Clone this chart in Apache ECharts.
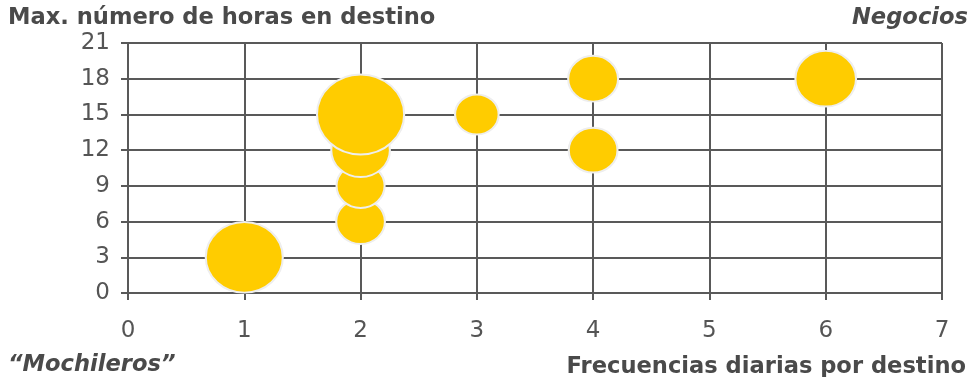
<!DOCTYPE html>
<html><head><meta charset="utf-8">
<script src="https://cdn.jsdelivr.net/npm/echarts@6/dist/echarts.min.js"></script>
<style>html,body{margin:0;padding:0;background:#fff}#c{width:973px;height:377px}</style>
</head><body><div id="c"></div>
<script>
const freq = [1, 2, 2, 2, 2, 3, 4, 4, 6];
const hours = [3, 6, 9, 12, 15, 15, 12, 18, 18];
const bubbleValue = [50, 20, 19.5, 29, 64, 16, 20, 21, 31];
const xTicks = [0, 1, 2, 3, 4, 5, 6, 7];
const yTicks = [0, 3, 6, 9, 12, 15, 18, 21];
const yTitle = 'Max. número de horas en destino';
const xTitle = 'Frecuencias diarias por destino';
const topRight = 'Negocios';
const bottomLeft = '\u201CMochileros\u201D';

const data = freq.map((f, i) => [f, hours[i], bubbleValue[i]]);

const chart = echarts.init(document.getElementById('c'));
const txt = '#595959';
const font = 'DejaVu Sans, Verdana, sans-serif';
chart.setOption({
  animation: false,
  grid: { left: 128, right: 31, top: 43, bottom: 84 },
  xAxis: {
    type: 'value', min: xTicks[0], max: xTicks[xTicks.length - 1], interval: 1,
    axisLine: { show: true, lineStyle: { color: txt, width: 2 } },
    axisTick: { show: true, length: 7, lineStyle: { color: txt, width: 2 } },
    splitLine: { show: true, lineStyle: { color: txt, width: 2 } },
    axisLabel: { color: '#555555', fontSize: 23, fontFamily: font, margin: 27 }
  },
  yAxis: {
    type: 'value', min: yTicks[0], max: yTicks[yTicks.length - 1], interval: 3,
    axisLine: { show: true, lineStyle: { color: txt, width: 2 } },
    axisTick: { show: true, length: 7, lineStyle: { color: txt, width: 2 } },
    splitLine: { show: true, lineStyle: { color: txt, width: 2 } },
    axisLabel: { color: '#555555', fontSize: 23, fontFamily: font, margin: 18 }
  },
  graphic: [
    { type: 'text', left: 8, top: 7, style: { text: yTitle, fill: '#4a4a4a', font: 'bold 22.6px ' + font } },
    { type: 'text', right: 5, top: 7, style: { text: topRight, fill: '#4a4a4a', font: 'italic bold 22.6px ' + font } },
    { type: 'text', left: 8, top: 354, style: { text: bottomLeft, fill: '#4a4a4a', font: 'italic bold 22.6px ' + font } },
    { type: 'text', right: 7, top: 356, style: { text: xTitle, fill: '#4a4a4a', font: 'bold 22.6px ' + font } }
  ],
  series: [{
    type: 'scatter',
    data: data,
    symbolSize: v => { const h = Math.sqrt(v[2]) * 10; return [h * 1.09, h]; },
    itemStyle: { color: '#FFCC00', borderColor: '#EEEEEE', borderWidth: 2, opacity: 1 },
    z: 5
  }]
});
</script></body></html>
